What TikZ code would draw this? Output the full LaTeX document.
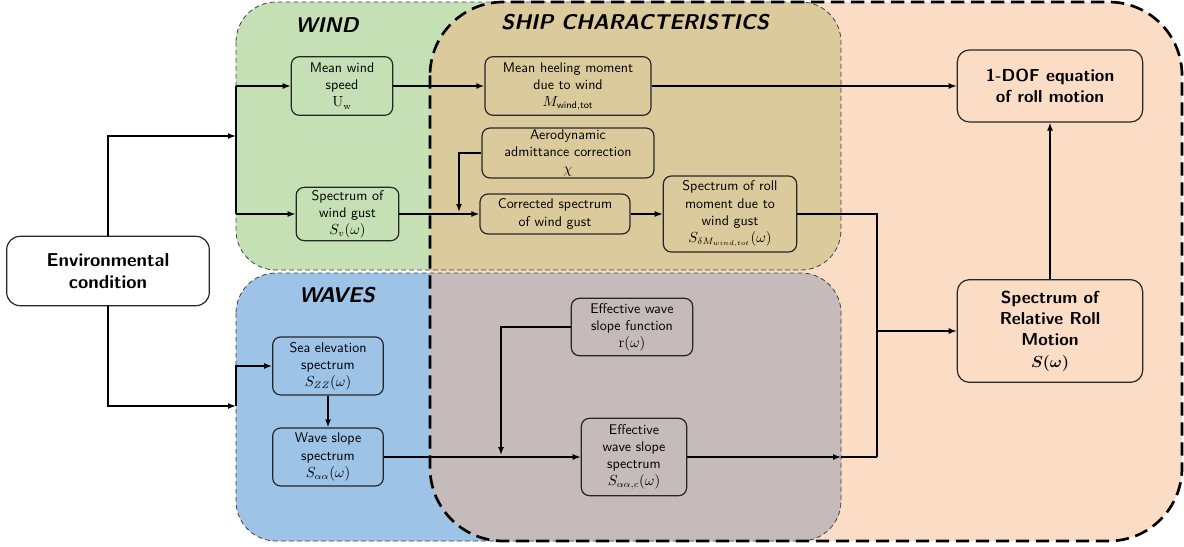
\documentclass[tikz,border=0pt]{standalone}
\usepackage{amsmath}
\usetikzlibrary{arrows.meta}

\definecolor{windgreen}{HTML}{C5E0B4}
\definecolor{wavesblue}{HTML}{9DC3E6}
\definecolor{shippeach}{HTML}{FBDCC5}
\definecolor{shipwind}{HTML}{DBCB9C}
\definecolor{shipwaves}{HTML}{C4BBBA}

\tikzstyle{blockbox} = [draw=black!85, line width=0.9pt, rectangle, rounded corners=6pt,
    align=center, inner sep=1pt, font=\sffamily\fontsize{10.5}{12.8}\selectfont]
\tikzstyle{bigbox} = [blockbox, rounded corners=9pt,
    font=\sffamily\bfseries\fontsize{13}{16}\selectfont]
\tikzstyle{envbox} = [blockbox, fill=white, rounded corners=10pt,
    font=\sffamily\bfseries\fontsize{14}{17}\selectfont]
\tikzstyle{regiontitle} = [font=\sffamily\bfseries\itshape\fontsize{16}{19}\selectfont]
\tikzstyle{flow} = [line width=1.1pt, -{Latex[length=6pt,width=4.5pt]}]
\tikzstyle{link} = [line width=1.1pt]
\tikzstyle{thinborder} = [draw=black!75, line width=0.6pt, dash pattern=on 3.5pt off 2.5pt]
\tikzstyle{shipborder} = [draw=black, line width=2pt, dash pattern=on 10pt off 5pt]

\begin{document}
\begin{tikzpicture}[x=0.75pt, y=-0.75pt]
\useasboundingbox (0,0) rectangle (1184,546);
%------------ Regions ---------------------
\fill[shippeach, rounded corners=55pt] (430,2) rectangle (1182,541);
\fill[windgreen, rounded corners=30pt] (236,2) rectangle (841,270);
\fill[wavesblue, rounded corners=30pt] (236,273) rectangle (841,541);
\begin{scope}
    \clip[rounded corners=55pt] (430,2) rectangle (1182,541);
    \fill[shipwind, rounded corners=30pt] (236,2) rectangle (841,270);
    \fill[shipwaves, rounded corners=30pt] (236,273) rectangle (841,541);
\end{scope}
\draw[thinborder, rounded corners=30pt] (236,2) rectangle (841,270);
\draw[thinborder, rounded corners=30pt] (236,273) rectangle (841,541);
\draw[shipborder, rounded corners=55pt] (430,2) rectangle (1182,541);

\node[regiontitle] (windtitle) at (327,25) {WIND};
\node[regiontitle] (shiptitle) at (635,22) {SHIP CHARACTERISTICS};
\node[regiontitle] (wavestitle) at (337,295) {WAVES};

%------------ Blocks ---------------------
\node[envbox, minimum width=152pt, minimum height=52pt] (envcond) at (108,271)
    {Environmental\\condition};

\node[blockbox, minimum width=76pt, minimum height=44pt] (meanwind) at (342,86)
    {Mean wind\\speed\\$\mathrm{U_w}$};
\node[blockbox, minimum width=77pt, minimum height=40pt] (windgust) at (347.5,214)
    {Spectrum of\\wind gust\\$S_v(\omega)$};
\node[blockbox, minimum width=124.5pt, minimum height=44pt] (heeling) at (568,86)
    {Mean heeling moment\\due to wind\\$M_{\textsf{wind,tot}}$};
\node[blockbox, minimum width=129pt, minimum height=37.5pt] (aero) at (568,153)
    {Aerodynamic\\admittance correction\\$\chi$};
\node[blockbox, minimum width=112.5pt, minimum height=30pt] (corrgust) at (555,214)
    {Corrected spectrum\\of wind gust};
\node[blockbox, minimum width=100pt, minimum height=57pt] (rollmom) at (730,214)
    {Spectrum of roll\\moment due to\\wind gust\\$S_{\delta M_{wind,tot}}(\omega)$};

\node[blockbox, minimum width=83pt, minimum height=43.5pt] (seaelev) at (328,366)
    {Sea elevation\\spectrum\\$S_{ZZ}(\omega)$};
\node[blockbox, minimum width=83pt, minimum height=43.5pt] (waveslope) at (328,457)
    {Wave slope\\spectrum\\$S_{\alpha\alpha}(\omega)$};
\node[blockbox, minimum width=91pt, minimum height=43pt] (effslopefn) at (632,327)
    {Effective wave\\slope function\\$\mathrm{r}(\omega)$};
\node[blockbox, minimum width=79pt, minimum height=58pt] (effslopespec) at (634,457)
    {Effective\\wave slope\\spectrum\\$S_{\alpha\alpha,c}(\omega)$};

\node[bigbox, minimum width=139pt, minimum height=54pt] (onedof) at (1050,86)
    {1-DOF equation\\of roll motion};
\node[bigbox, minimum width=139pt, minimum height=77pt] (relroll) at (1050,331)
    {Spectrum of\\Relative Roll\\Motion\\$\boldsymbol{S(\omega)}$};

%------------ Connectors ---------------------
\coordinate (windin) at (236,136);
\coordinate (windtop) at (236,86);
\coordinate (windbot) at (236,214);
\coordinate (wavesin) at (236,406);
\coordinate (aerojoin) at (459,212);
\coordinate (slopejoin) at (501,455);
\coordinate (busend) at (877,457);
\coordinate (busmid) at (877,331);
\coordinate (shipedge) at (841,457);

\draw[flow] (envcond.north) |- (windin);
\draw[link] (windtop) -- (windbot);
\draw[flow] (windtop) -- (meanwind.west);
\draw[flow] (windbot) -- (windgust.west);
\draw[flow] (envcond.south) |- (wavesin);
\draw[flow] (wavesin) |- (seaelev.west);

\draw[flow] (meanwind.east) -- (heeling.west);
\draw[flow] (heeling.east) -- (onedof.west);
\draw[flow] (windgust.east) -- (corrgust.west);
\draw[flow] (aero.west) -| (aerojoin);
\draw[flow] (corrgust.east) -- (rollmom.west);
\draw[link] (rollmom.east) -| (busend);

\draw[flow] (seaelev.south) -- (waveslope.north);
\draw[flow] (waveslope.east) -- (effslopespec.west);
\draw[flow] (effslopefn.west) -| (slopejoin);
\draw[flow] (effslopespec.east) -- (shipedge);
\draw[link] (shipedge) -- (busend);

\draw[flow] (busmid) -- (relroll.west);
\draw[flow] (relroll.north) -- (onedof.south);
\end{tikzpicture}
\end{document}
